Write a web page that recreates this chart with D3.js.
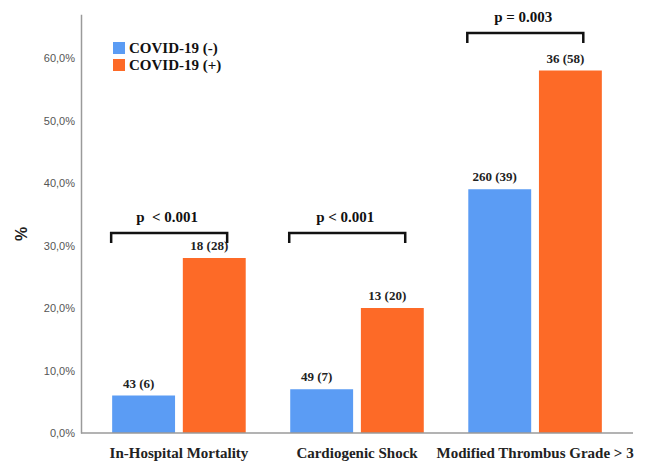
<!DOCTYPE html>
<html>
<head>
<meta charset="utf-8">
<script src="https://cdn.jsdelivr.net/npm/d3@7"></script>
<style>
  html, body { margin: 0; padding: 0; background: #fff; }
  svg { display: block; }
</style>
</head>
<body>
<svg id="chart" width="650" height="463"></svg>
<script>
// Outcomes by COVID-19 status: counts and percentages per group
const categories = ["In-Hospital Mortality", "Cardiogenic Shock", "Modified Thrombus Grade > 3"];
const seriesNames = ["COVID-19 (-)", "COVID-19 (+)"];
const negativeCounts = [43, 49, 260];
const negativePct = [6, 7, 39];
const positiveCounts = [18, 13, 36];
const positivePct = [28, 20, 58];
const pValues = ["p  < 0.001", "p < 0.001", "p = 0.003"];
const pBracketLevel = [32, 32, 64];   // bracket height, in % units
const yTicks = [0, 10, 20, 30, 40, 50, 60];

const colors = ["#5b9cf4", "#fd6a27"];
const serif = "'Liberation Serif', 'Times New Roman', serif";
const sans = "'Liberation Sans', Arial, sans-serif";

const svg = d3.select("#chart");

const x0 = d3.scaleBand()
  .domain(categories)
  .range([81, 633])
  .paddingInner(0.25)
  .paddingOuter(0.175);

const x1 = d3.scaleBand()
  .domain(seriesNames)
  .range([0, x0.bandwidth()])
  .paddingInner(0.11);

const y = d3.scaleLinear().domain([0, 67]).range([433, 14.25]);

const rows = categories.map((c, i) => ({
  category: c,
  bars: [
    { series: seriesNames[0], count: negativeCounts[i], pct: negativePct[i] },
    { series: seriesNames[1], count: positiveCounts[i], pct: positivePct[i] }
  ]
}));

// Y axis: labels only, no tick marks
const yAxis = d3.axisLeft(y)
  .tickValues(yTicks)
  .tickSize(0)
  .tickPadding(6)
  .tickFormat(v => d3.format(".1f")(v).replace(".", ",") + "%");

const yG = svg.append("g")
  .attr("transform", "translate(81,0)")
  .call(yAxis);
yG.select(".domain").attr("stroke", "#9a9a9a").attr("stroke-width", 1.5);
yG.selectAll("text")
  .attr("font-family", sans)
  .attr("font-size", 11)
  .attr("fill", "#555");

// Bars
const groups = svg.append("g").selectAll("g")
  .data(rows)
  .join("g")
  .attr("transform", d => `translate(${x0(d.category)},0)`);

groups.selectAll("rect")
  .data(d => d.bars)
  .join("rect")
  .attr("x", d => x1(d.series))
  .attr("width", x1.bandwidth())
  .attr("y", d => y(d.pct))
  .attr("height", d => y(0) - y(d.pct))
  .attr("fill", (d, i) => colors[i]);

// Value labels: "count (pct)"
groups.selectAll("text.val")
  .data(d => d.bars)
  .join("text")
  .attr("class", "val")
  .attr("x", d => x1(d.series) + x1.bandwidth() / 2 - 5)
  .attr("y", d => y(d.pct) - 8)
  .attr("text-anchor", "middle")
  .attr("font-family", serif)
  .attr("font-weight", "bold")
  .attr("font-size", 13)
  .attr("fill", "#222")
  .text(d => `${d.count} (${d.pct})`);

// X axis baseline and category labels
const xG = svg.append("g")
  .attr("transform", `translate(0,${y(0)})`)
  .call(d3.axisBottom(x0).tickSize(0).tickPadding(14));
xG.select(".domain").attr("stroke", "#9a9a9a").attr("stroke-width", 1.5)
  .attr("d", "M81,0H633");
xG.selectAll("text")
  .attr("font-family", serif)
  .attr("font-weight", "bold")
  .attr("font-size", 15)
  .attr("fill", "#222");

// Significance brackets
const brackets = svg.append("g").selectAll("g")
  .data(rows.map((r, i) => ({ cat: r.category, p: pValues[i], lvl: pBracketLevel[i] })))
  .join("g");

brackets.append("path")
  .attr("d", d => {
    const xa = x0(d.cat) - 1, xb = x0(d.cat) + 115, yt = y(d.lvl);
    return `M${xa},${yt + 10}V${yt}H${xb}V${yt + 10}`;
  })
  .attr("fill", "none")
  .attr("stroke", "#111")
  .attr("stroke-width", 2.5);

brackets.append("text")
  .attr("x", d => x0(d.cat) + 55)
  .attr("y", d => y(d.lvl) - 11)
  .attr("text-anchor", "middle")
  .attr("font-family", serif)
  .attr("font-weight", "bold")
  .attr("font-size", 15)
  .attr("fill", "#111")
  .attr("xml:space", "preserve")
  .style("white-space", "pre")
  .text(d => d.p);

// Y axis title
svg.append("text")
  .attr("transform", "translate(27,234) rotate(-90)")
  .attr("text-anchor", "middle")
  .attr("font-family", sans)
  .attr("font-weight", "bold")
  .attr("font-size", 16)
  .attr("fill", "#222")
  .text("%");

// Legend
const legend = svg.append("g").attr("transform", "translate(113,42)");
seriesNames.forEach((name, i) => {
  const g = legend.append("g").attr("transform", `translate(0,${i * 17})`);
  g.append("rect").attr("width", 12).attr("height", 12).attr("fill", colors[i]);
  g.append("text")
    .attr("x", 16)
    .attr("y", 11)
    .attr("font-family", serif)
    .attr("font-weight", "bold")
    .attr("font-size", 15)
    .attr("fill", "#111")
    .text(name);
});
</script>
</body>
</html>
